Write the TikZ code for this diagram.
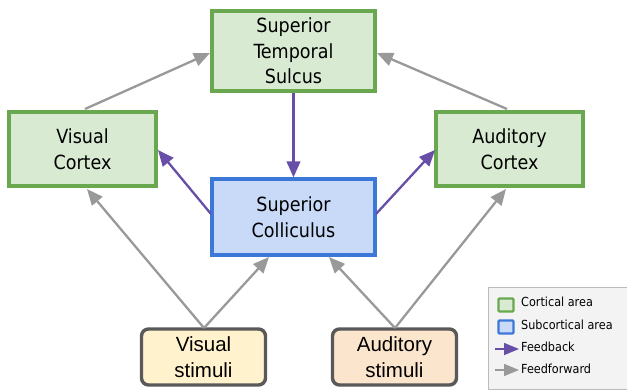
\documentclass[tikz,border=0pt]{standalone}
\usepackage{fontspec}
\setmainfont{DejaVu Sans Condensed}
\newfontfamily\stimfont{Liberation Sans}
\usetikzlibrary{arrows.meta}
\definecolor{cgreen}{HTML}{6AA84F}
\definecolor{cgreenf}{HTML}{D9EAD3}
\definecolor{cblue}{HTML}{3C78D8}
\definecolor{cbluef}{HTML}{C9DAF8}
\definecolor{cpurple}{HTML}{674EA7}
\definecolor{cgray}{HTML}{999999}
\definecolor{cyel}{HTML}{FFF2CC}
\definecolor{corange}{HTML}{FCE5CD}
\definecolor{cdark}{HTML}{595959}
\definecolor{clegf}{HTML}{F3F3F3}
\definecolor{clegb}{HTML}{BBBBBB}
\begin{document}
\begin{tikzpicture}[x=1pt,y=-1pt,
  box/.style={draw, line width=3.2pt, align=center, inner sep=0pt,
    font=\fontsize{19.5}{25.5}\selectfont},
  cortical/.style={box, draw=cgreen, fill=cgreenf},
  subcort/.style={box, draw=cblue, fill=cbluef},
  stim/.style={box, draw=cdark, line width=3.4pt, rounded corners=7pt,
    font=\stimfont\fontsize{20.5}{26}\selectfont},
  ff/.style={draw=cgray, line width=2.3pt, -{Triangle[length=16pt,width=13.5pt]}},
  fb/.style={draw=cpurple, line width=2.3pt, -{Triangle[length=16pt,width=13.5pt]}},
  legtext/.style={anchor=west, inner sep=0pt, font=\fontsize{12.5}{14}\selectfont}
]
\useasboundingbox (0,0) rectangle (627,389);
\node[cortical, minimum width=163pt, minimum height=80pt] (sts) at (293.5,51) {Superior\\Temporal\\Sulcus};
\node[cortical, minimum width=147pt, minimum height=74pt] (vc) at (82.5,149) {Visual\\Cortex};
\node[cortical, minimum width=147pt, minimum height=74pt] (ac) at (509.5,149) {Auditory\\Cortex};
\node[subcort, minimum width=163pt, minimum height=76pt] (sc) at (293.5,217) {Superior\\Colliculus};
\node[stim, fill=cyel, minimum width=124pt, minimum height=56pt] (vs) at (203.5,357) {Visual\\stimuli};
\node[stim, fill=corange, minimum width=124pt, minimum height=56pt] (as) at (394.5,357) {Auditory\\stimuli};

\coordinate (vctop) at (85,109);
\coordinate (actop) at (507,109);
\coordinate (stsl) at (210,53);
\coordinate (stsr) at (377,53);
\draw[ff] (vctop) -- (stsl);
\draw[ff] (actop) -- (stsr);
\draw[fb] (sts.south) -- (sc.north);
\coordinate (scl) at (211,214);
\coordinate (scr) at (376,214);
\coordinate (vcr) at (158,150);
\coordinate (acl) at (435,150);
\draw[fb] (scl) -- (vcr);
\draw[fb] (scr) -- (acl);
\coordinate (vstop) at (204,328);
\coordinate (astop) at (395,328);
\coordinate (vcb) at (87,189);
\coordinate (acb) at (506,189);
\coordinate (scbl) at (269,257);
\coordinate (scbr) at (329,257);
\draw[ff] (vstop) -- (vcb);
\draw[ff] (vstop) -- (scbl);
\draw[ff] (astop) -- (scbr);
\draw[ff] (astop) -- (acb);

% legend
\node[draw=clegb, fill=clegf, line width=0.8pt, minimum width=139pt, minimum height=102pt, inner sep=0pt] (leg) at (557.5,338) {};
\node[draw=cgreen, fill=cgreenf, line width=2.4pt, minimum width=15pt, minimum height=13pt, inner sep=0pt, rounded corners=1pt] (lg1) at (506,305) {};
\node[draw=cblue, fill=cbluef, line width=2.4pt, minimum width=15pt, minimum height=13pt, inner sep=0pt, rounded corners=1pt] (lg2) at (506,327) {};
\node[legtext] (lt1) at (521,302) {Cortical area};
\node[legtext] (lt2) at (521,325) {Subcortical area};
\coordinate (la1s) at (495,349);
\coordinate (la1e) at (519,349);
\coordinate (la2s) at (495,370);
\coordinate (la2e) at (519,370);
\draw[fb, line width=1.5pt, -{Triangle[length=15pt,width=12pt]}] (la1s) -- (la1e);
\draw[ff, line width=1.5pt, -{Triangle[length=15pt,width=12pt]}] (la2s) -- (la2e);
\node[legtext] (lt3) at (521,347) {Feedback};
\node[legtext] (lt4) at (521,369) {Feedforward};
\end{tikzpicture}
\end{document}
